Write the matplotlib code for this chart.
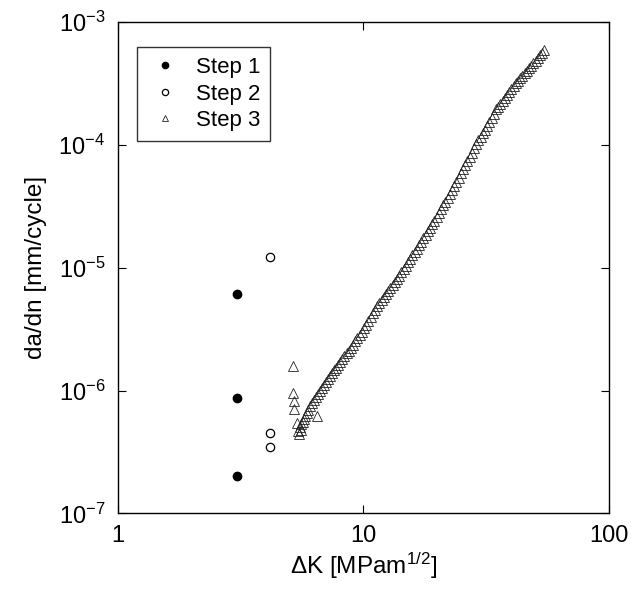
import matplotlib
matplotlib.use("Agg")
import matplotlib.pyplot as plt

# Step 1 and Step 2 data (filled / open circles)
step1_dk = [3.07, 3.07, 3.07]
step1_dadn = [6.08e-6, 8.77e-7, 2.02e-7]

step2_dk = [4.18, 4.18, 4.18]
step2_dadn = [1.22e-5, 4.55e-7, 3.48e-7]

# Step 3 data (open triangles)
step3_dk = [
    5.19, 5.19, 5.22, 5.24, 6.45, 5.38, 5.48, 5.55,
    5.40, 5.50, 5.58, 5.65, 5.72, 5.80, 5.88, 5.97, 6.07, 6.18,
    6.29, 6.40, 6.52, 6.64, 6.76, 6.89, 7.02, 7.15, 7.29, 7.43,
    7.58, 7.73, 7.88, 8.04, 8.20, 8.37, 8.54, 8.71, 8.89, 9.07,
    9.26, 9.45, 9.65, 9.85, 10.05, 10.26, 10.47, 10.69, 10.91, 11.14,
    11.37, 11.61, 11.85, 12.10, 12.35, 12.61, 12.87, 13.14, 13.41, 13.69,
    13.98, 14.27, 14.57, 14.87, 15.18, 15.50, 15.82, 16.15, 16.49, 16.83,
    17.18, 17.54, 17.91, 18.28, 18.66, 19.05, 19.45, 19.85, 20.26, 20.68,
    21.11, 21.55, 22.00, 22.46, 22.93, 23.41, 23.90, 24.40, 24.91, 25.43,
    25.96, 26.50, 27.05, 27.61, 28.18, 28.77, 29.37, 29.98, 30.60, 31.24,
    31.89, 32.55, 33.23, 33.92, 34.63, 35.35, 36.08, 36.83, 37.60, 38.38,
    39.18, 40.00, 40.83, 41.68, 42.55, 43.44, 44.35, 45.27, 46.21, 47.17,
    48.15, 49.15, 50.17, 51.21, 52.27, 53.35, 54.45,
]
step3_dadn = [
    1.59e-6, 9.6e-7, 8.3e-7, 7.1e-7, 6.2e-7, 5.5e-7, 4.4e-7, 4.8e-7,
    4.68e-7, 5.04e-7, 5.32e-7, 5.60e-7, 5.89e-7, 6.22e-7, 6.58e-7, 6.98e-7, 7.46e-7, 8.00e-7,
    8.43e-7, 8.89e-7, 9.40e-7, 9.93e-7, 1.05e-6, 1.11e-6, 1.17e-6, 1.24e-6, 1.31e-6, 1.38e-6,
    1.46e-6, 1.54e-6, 1.62e-6, 1.71e-6, 1.81e-6, 1.91e-6, 2.01e-6, 2.12e-6, 2.24e-6, 2.36e-6,
    2.51e-6, 2.67e-6, 2.84e-6, 3.02e-6, 3.21e-6, 3.45e-6, 3.70e-6, 3.97e-6, 4.26e-6, 4.56e-6,
    4.85e-6, 5.13e-6, 5.42e-6, 5.74e-6, 6.07e-6, 6.43e-6, 6.79e-6, 7.18e-6, 7.62e-6, 8.11e-6,
    8.63e-6, 9.18e-6, 9.77e-6, 1.04e-5, 1.11e-5, 1.18e-5, 1.26e-5, 1.34e-5, 1.43e-5, 1.52e-5,
    1.63e-5, 1.74e-5, 1.85e-5, 1.98e-5, 2.11e-5, 2.26e-5, 2.42e-5, 2.59e-5, 2.77e-5, 2.99e-5,
    3.21e-5, 3.44e-5, 3.71e-5, 4.00e-5, 4.32e-5, 4.66e-5, 5.02e-5, 5.42e-5, 5.85e-5, 6.32e-5,
    6.84e-5, 7.40e-5, 8.00e-5, 8.65e-5, 9.38e-5, 1.01e-4, 1.09e-4, 1.16e-4, 1.24e-4, 1.33e-4,
    1.43e-4, 1.54e-4, 1.66e-4, 1.79e-4, 1.94e-4, 2.05e-4, 2.16e-4, 2.29e-4, 2.41e-4, 2.55e-4,
    2.69e-4, 2.84e-4, 2.99e-4, 3.16e-4, 3.31e-4, 3.48e-4, 3.64e-4, 3.82e-4, 4.00e-4, 4.20e-4,
    4.40e-4, 4.61e-4, 4.84e-4, 5.09e-4, 5.35e-4, 5.61e-4, 5.89e-4,
]

x_ticks = [1, 10, 100]
x_tick_labels = ["1", "10", "100"]

plt.rcParams["font.family"] = ["Liberation Sans", "DejaVu Sans"]
plt.rcParams["mathtext.default"] = "regular"

fig = plt.figure(figsize=(6.32, 5.89), dpi=100)
ax = fig.add_axes([0.1862, 0.1282, 0.7778, 0.8345])

ax.plot(step1_dk, step1_dadn, "o", color="black", markersize=6, label="Step 1")
ax.plot(step2_dk, step2_dadn, "o", mfc="none", mec="black", mew=0.9,
        markersize=6, label="Step 2")
ax.plot(step3_dk, step3_dadn, "^", mfc="none", mec="#222222", mew=0.6,
        markersize=6.5, label="Step 3")

ax.set_xscale("log")
ax.set_yscale("log")
ax.set_xlim(1, 100)
ax.set_ylim(1e-7, 1e-3)

ax.set_xticks(x_ticks)
ax.set_xticklabels(x_tick_labels)
ax.minorticks_off()
ax.tick_params(which="both", direction="in", top=True, right=True,
               length=6, width=0.8, labelsize=17)
ax.tick_params(axis="y", pad=9)
ax.tick_params(axis="x", pad=8)
for s in ax.spines.values():
    s.set_linewidth(1.0)

ax.set_xlabel(r"ΔK [MPam$^{1/2}$]", fontsize=17.5, labelpad=3)
ax.set_ylabel("da/dn [mm/cycle]", fontsize=17.5, labelpad=8)

leg = ax.legend(loc="upper left", bbox_to_anchor=(0.039, 0.949),
                borderaxespad=0, fontsize=16, frameon=True, fancybox=False,
                edgecolor="black", handlelength=1.6, handletextpad=0.6,
                labelspacing=0.25, borderpad=0.45, markerscale=0.75)
leg.get_frame().set_linewidth(1.0)

plt.savefig("out.png", dpi=100)
